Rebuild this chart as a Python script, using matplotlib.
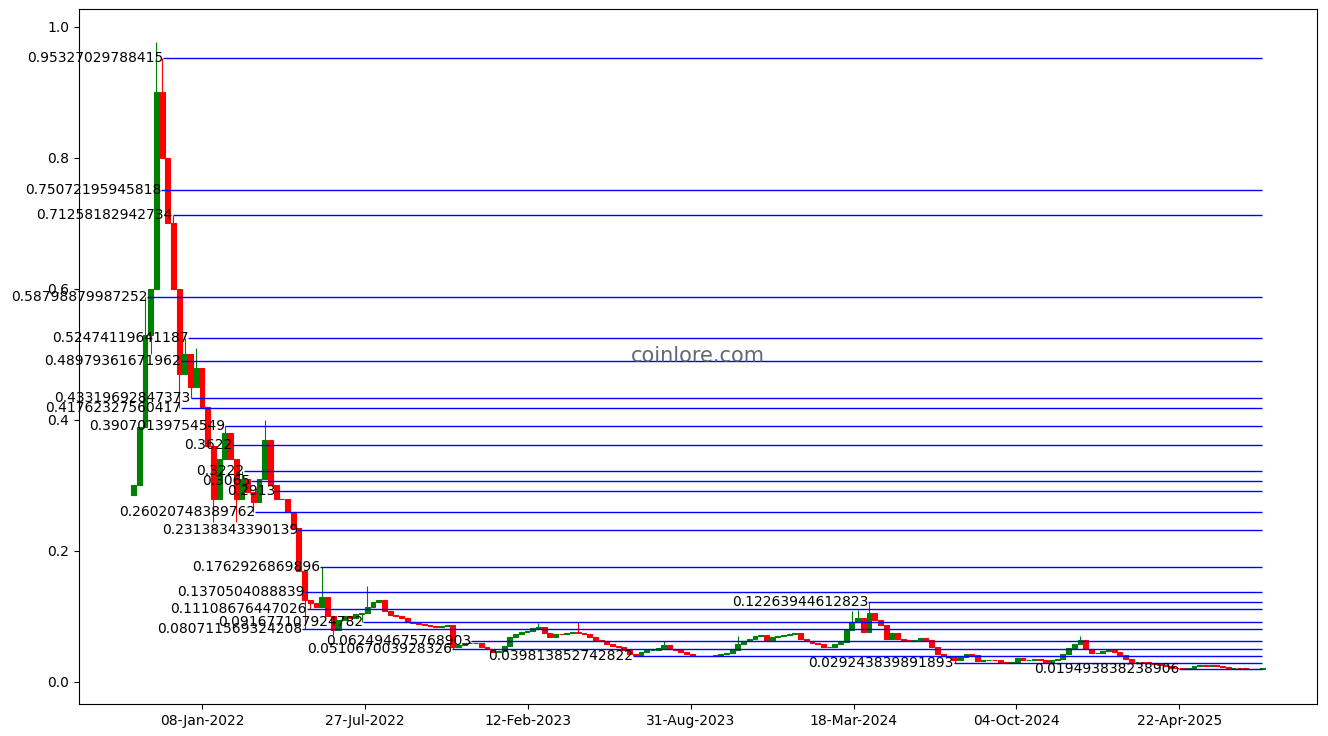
import numpy as np
import pandas as pd
import matplotlib
matplotlib.use('Agg')
import matplotlib.pyplot as plt
import matplotlib.dates as mdates

# weekly closes (first candle opens at first_open)
first_open = 0.285
closes = [0.30, 0.39, 0.53, 0.60, 0.90, 0.80, 0.70, 0.60, 0.47, 0.50,
          0.45, 0.48, 0.42, 0.36, 0.28, 0.34, 0.38, 0.34, 0.28, 0.31,
          0.29, 0.275, 0.31, 0.37, 0.30, 0.28, 0.28, 0.26, 0.235, 0.17,
          0.125, 0.12, 0.115, 0.13, 0.10, 0.08, 0.095, 0.10, 0.097, 0.104,
          0.105, 0.115, 0.122, 0.125, 0.108, 0.103, 0.100, 0.097, 0.092, 0.090,
          0.089, 0.087, 0.086, 0.084, 0.085, 0.087, 0.054, 0.056, 0.060, 0.060,
          0.059, 0.054, 0.050, 0.046, 0.048, 0.055, 0.068, 0.073, 0.076, 0.078,
          0.082, 0.084, 0.075, 0.068, 0.074, 0.073, 0.075, 0.076, 0.075, 0.074,
          0.068, 0.064, 0.062, 0.058, 0.055, 0.053, 0.049, 0.042, 0.041, 0.046,
          0.049, 0.049, 0.052, 0.056, 0.050, 0.049, 0.046, 0.042, 0.040, 0.040,
          0.039, 0.040, 0.041, 0.042, 0.045, 0.049, 0.058, 0.063, 0.066, 0.070,
          0.071, 0.064, 0.068, 0.070, 0.072, 0.074, 0.075, 0.066, 0.062, 0.060,
          0.058, 0.054, 0.053, 0.058, 0.061, 0.080, 0.092, 0.098, 0.076, 0.105,
          0.095, 0.087, 0.066, 0.075, 0.066, 0.064, 0.062, 0.064, 0.067, 0.064,
          0.054, 0.042, 0.040, 0.038, 0.034, 0.038, 0.043, 0.041, 0.032, 0.033,
          0.034, 0.033, 0.030, 0.029, 0.031, 0.036, 0.034, 0.034, 0.035, 0.034,
          0.031, 0.033, 0.035, 0.043, 0.052, 0.058, 0.064, 0.050, 0.045, 0.045,
          0.047, 0.049, 0.046, 0.041, 0.035, 0.031, 0.031, 0.030, 0.029, 0.027,
          0.026, 0.025, 0.022, 0.021, 0.0195, 0.022, 0.024, 0.026, 0.025, 0.026,
          0.024, 0.023, 0.022, 0.022, 0.021, 0.020, 0.020, 0.020, 0.022]

# notable wicks (candle index -> price)
wick_high = {2: 0.588, 4: 0.977, 5: 0.953, 6: 0.78, 7: 0.7126, 8: 0.4898,
             9: 0.5247, 11: 0.51, 16: 0.3907, 17: 0.3622, 19: 0.3222,
             20: 0.3065, 23: 0.40, 25: 0.2913, 29: 0.2314, 30: 0.137,
             33: 0.1763, 41: 0.146, 59: 0.0625, 71: 0.09, 78: 0.092,
             93: 0.062, 106: 0.07, 126: 0.108, 127: 0.11, 129: 0.1226,
             166: 0.07}
wick_low = {3: 0.50, 8: 0.4176, 10: 0.4332, 14: 0.245, 18: 0.245,
            21: 0.2602, 30: 0.0807, 31: 0.111, 35: 0.072, 40: 0.0917,
            56: 0.0511, 88: 0.0398, 144: 0.0292, 183: 0.0195}

levels = [0.95327029788415, 0.75072195945818, 0.71258182942734,
          0.58798879987252, 0.52474119641187, 0.48979361671962,
          0.43319692847373, 0.41762327560417, 0.39070139754549,
          0.3622, 0.3222, 0.3065, 0.2913, 0.26020748389762,
          0.23138343390139, 0.1762926869896, 0.1370504088839,
          0.11108676447026, 0.091677107924782, 0.080711569324208,
          0.062494675768903, 0.051067003928326, 0.039813852742822,
          0.12263944612823, 0.029243839891893, 0.019493838238906]
level_start = ['2021-11-21', '2021-11-19', '2021-12-03', '2021-11-02',
               '2021-12-22', '2021-12-13', '2021-12-25', '2021-12-13',
               '2022-02-05', '2022-02-14', '2022-03-01', '2022-03-09',
               '2022-04-08', '2022-03-14', '2022-05-06', '2022-06-02',
               '2022-05-14', '2022-05-17', '2022-07-25', '2022-05-11',
               '2022-12-04', '2022-11-11', '2023-06-21', '2024-04-05',
               '2024-07-19', '2025-04-22']

tick_dates = ['2022-01-08', '2022-07-27', '2023-02-12', '2023-08-31',
              '2024-03-18', '2024-10-04', '2025-04-22']

dates = pd.date_range('2021-10-16', periods=len(closes), freq='7D')
x = mdates.date2num(dates)
opens = [first_open] + closes[:-1]

fig = plt.figure(figsize=(13.28, 7.36), dpi=100)
ax = fig.add_axes([0.0595, 0.0435, 0.9322, 0.9443])

for i in range(len(closes)):
    o, c = opens[i], closes[i]
    col = 'green' if c >= o else 'red'
    hi = max(o, c, wick_high.get(i, 0))
    lo = min(o, c, wick_low.get(i, 10))
    ax.vlines(x[i], lo, hi, color=col, lw=0.8)
    ax.bar(x[i], c - o, bottom=o, width=6, color=col, edgecolor=col,
           linewidth=0.8)

for lv, s in zip(levels, level_start):
    xs = mdates.date2num(pd.Timestamp(s))
    ax.hlines(lv, xs, x[-1], colors='blue', lw=1)
    ax.text(xs, lv, str(lv), ha='right', va='center', fontsize=10)

ax.text(0.5, 0.5, 'coinlore.com', transform=ax.transAxes, ha='center',
        va='center', fontsize=15, color='#555566', alpha=0.9)

ax.set_xticks(mdates.date2num(pd.to_datetime(tick_dates)))
ax.xaxis.set_major_formatter(mdates.DateFormatter('%d-%b-%Y'))
ax.set_xlim(mdates.date2num(pd.Timestamp('2021-08-10')),
            mdates.date2num(pd.Timestamp('2025-10-08')))
ax.set_ylim(-0.0336, 1.0275)

fig.savefig('out.png', dpi=100)
